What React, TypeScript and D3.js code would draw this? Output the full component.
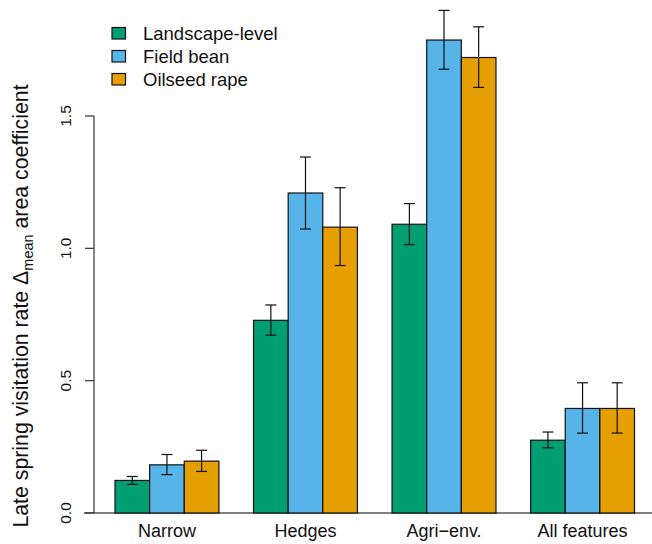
import React from "react";
import * as d3 from "d3";

const categories = ["Narrow", "Hedges", "Agri\u2212env.", "All features"];
const seriesNames = ["Landscape-level", "Field bean", "Oilseed rape"];
const seriesColors = ["#009E73", "#56B4E9", "#E69F00"];
// values[series][category]
const landscapeVals = [0.123, 0.728, 1.091, 0.275];
const beanVals = [0.182, 1.209, 1.787, 0.395];
const rapeVals = [0.196, 1.08, 1.721, 0.395];
const landscapeLo = [0.108, 0.672, 1.014, 0.246];
const landscapeHi = [0.138, 0.786, 1.169, 0.306];
const beanLo = [0.145, 1.073, 1.677, 0.302];
const beanHi = [0.221, 1.345, 1.899, 0.492];
const rapeLo = [0.157, 0.935, 1.608, 0.302];
const rapeHi = [0.237, 1.229, 1.837, 0.492];
const yTicks = [0, 0.5, 1.0, 1.5];

const W = 652;
const H = 544;

export default function App() {
  const y = d3.scaleLinear().domain([0, 1.5]).range([513, 116]);
  const x = d3.scaleLinear().domain([0, 16]).range([80.37, 634.5]);
  const vals = [landscapeVals, beanVals, rapeVals];
  const los = [landscapeLo, beanLo, rapeLo];
  const his = [landscapeHi, beanHi, rapeHi];
  const font = "Liberation Sans, Arial, Helvetica, sans-serif";

  const bars: React.ReactNode[] = [];
  const errs: React.ReactNode[] = [];
  categories.forEach((c, i) => {
    seriesNames.forEach((s, j) => {
      const u = 4 * i + 1 + j;
      const x0 = x(u);
      const x1 = x(u + 1);
      const v = vals[j][i];
      bars.push(
        <rect
          key={`b${i}-${j}`}
          x={x0}
          y={y(v)}
          width={x1 - x0}
          height={y(0) - y(v)}
          fill={seriesColors[j]}
          stroke="#111"
          strokeWidth={1.2}
        />
      );
      const cx = (x0 + x1) / 2;
      const lo = y(los[j][i]);
      const hi = y(his[j][i]);
      errs.push(
        <g key={`e${i}-${j}`} stroke="#111" strokeWidth={1.2}>
          <line x1={cx} x2={cx} y1={lo} y2={hi} />
          <line x1={cx - 5.5} x2={cx + 5.5} y1={lo} y2={lo} />
          <line x1={cx - 5.5} x2={cx + 5.5} y1={hi} y2={hi} />
        </g>
      );
    });
  });

  return (
    <svg
      width={W}
      height={H}
      style={{ position: "absolute", left: 0, top: 0, background: "#fff" }}
      fontFamily={font}
    >
      <rect x={0} y={0} width={W} height={H} fill="#fff" />
      {/* baseline */}
      <line x1={84} x2={652} y1={y(0)} y2={y(0)} stroke="#555" strokeWidth={1.3} />
      {bars}
      {errs}
      {/* y axis */}
      <line x1={94} x2={94} y1={y(0)} y2={y(1.5)} stroke="#333" strokeWidth={1.2} />
      {yTicks.map((t) => (
        <g key={`t${t}`}>
          <line x1={85} x2={94} y1={y(t)} y2={y(t)} stroke="#333" strokeWidth={1.2} />
          <text
            transform={`translate(71,${y(t)}) rotate(-90)`}
            textAnchor="middle"
            fontSize={15.5}
            fill="#111"
          >
            {t.toFixed(1)}
          </text>
        </g>
      ))}
      {/* x labels */}
      {categories.map((c, i) => (
        <text
          key={`x${i}`}
          x={(x(4 * i + 1) + x(4 * i + 4)) / 2}
          y={537}
          textAnchor="middle"
          fontSize={18}
          fill="#111"
        >
          {c}
        </text>
      ))}
      {/* y title */}
      <text
        transform={`translate(28,306) rotate(-90)`}
        textAnchor="middle"
        fontSize={21.3}
        fill="#111"
      >
        Late spring visitation rate {"\u0394"}
        <tspan fontSize={14.5} dy={5}>mean</tspan>
        <tspan dy={-5}> area coefficient</tspan>
      </text>
      {/* legend */}
      {seriesNames.map((s, j) => (
        <g key={`l${j}`}>
          <rect
            x={112}
            y={27.5 + j * 23}
            width={13.5}
            height={11.5}
            fill={seriesColors[j]}
            stroke="#111"
            strokeWidth={1.2}
          />
          <text x={143} y={39.5 + j * 23} fontSize={18.5} fill="#111">
            {s}
          </text>
        </g>
      ))}
    </svg>
  );
}
